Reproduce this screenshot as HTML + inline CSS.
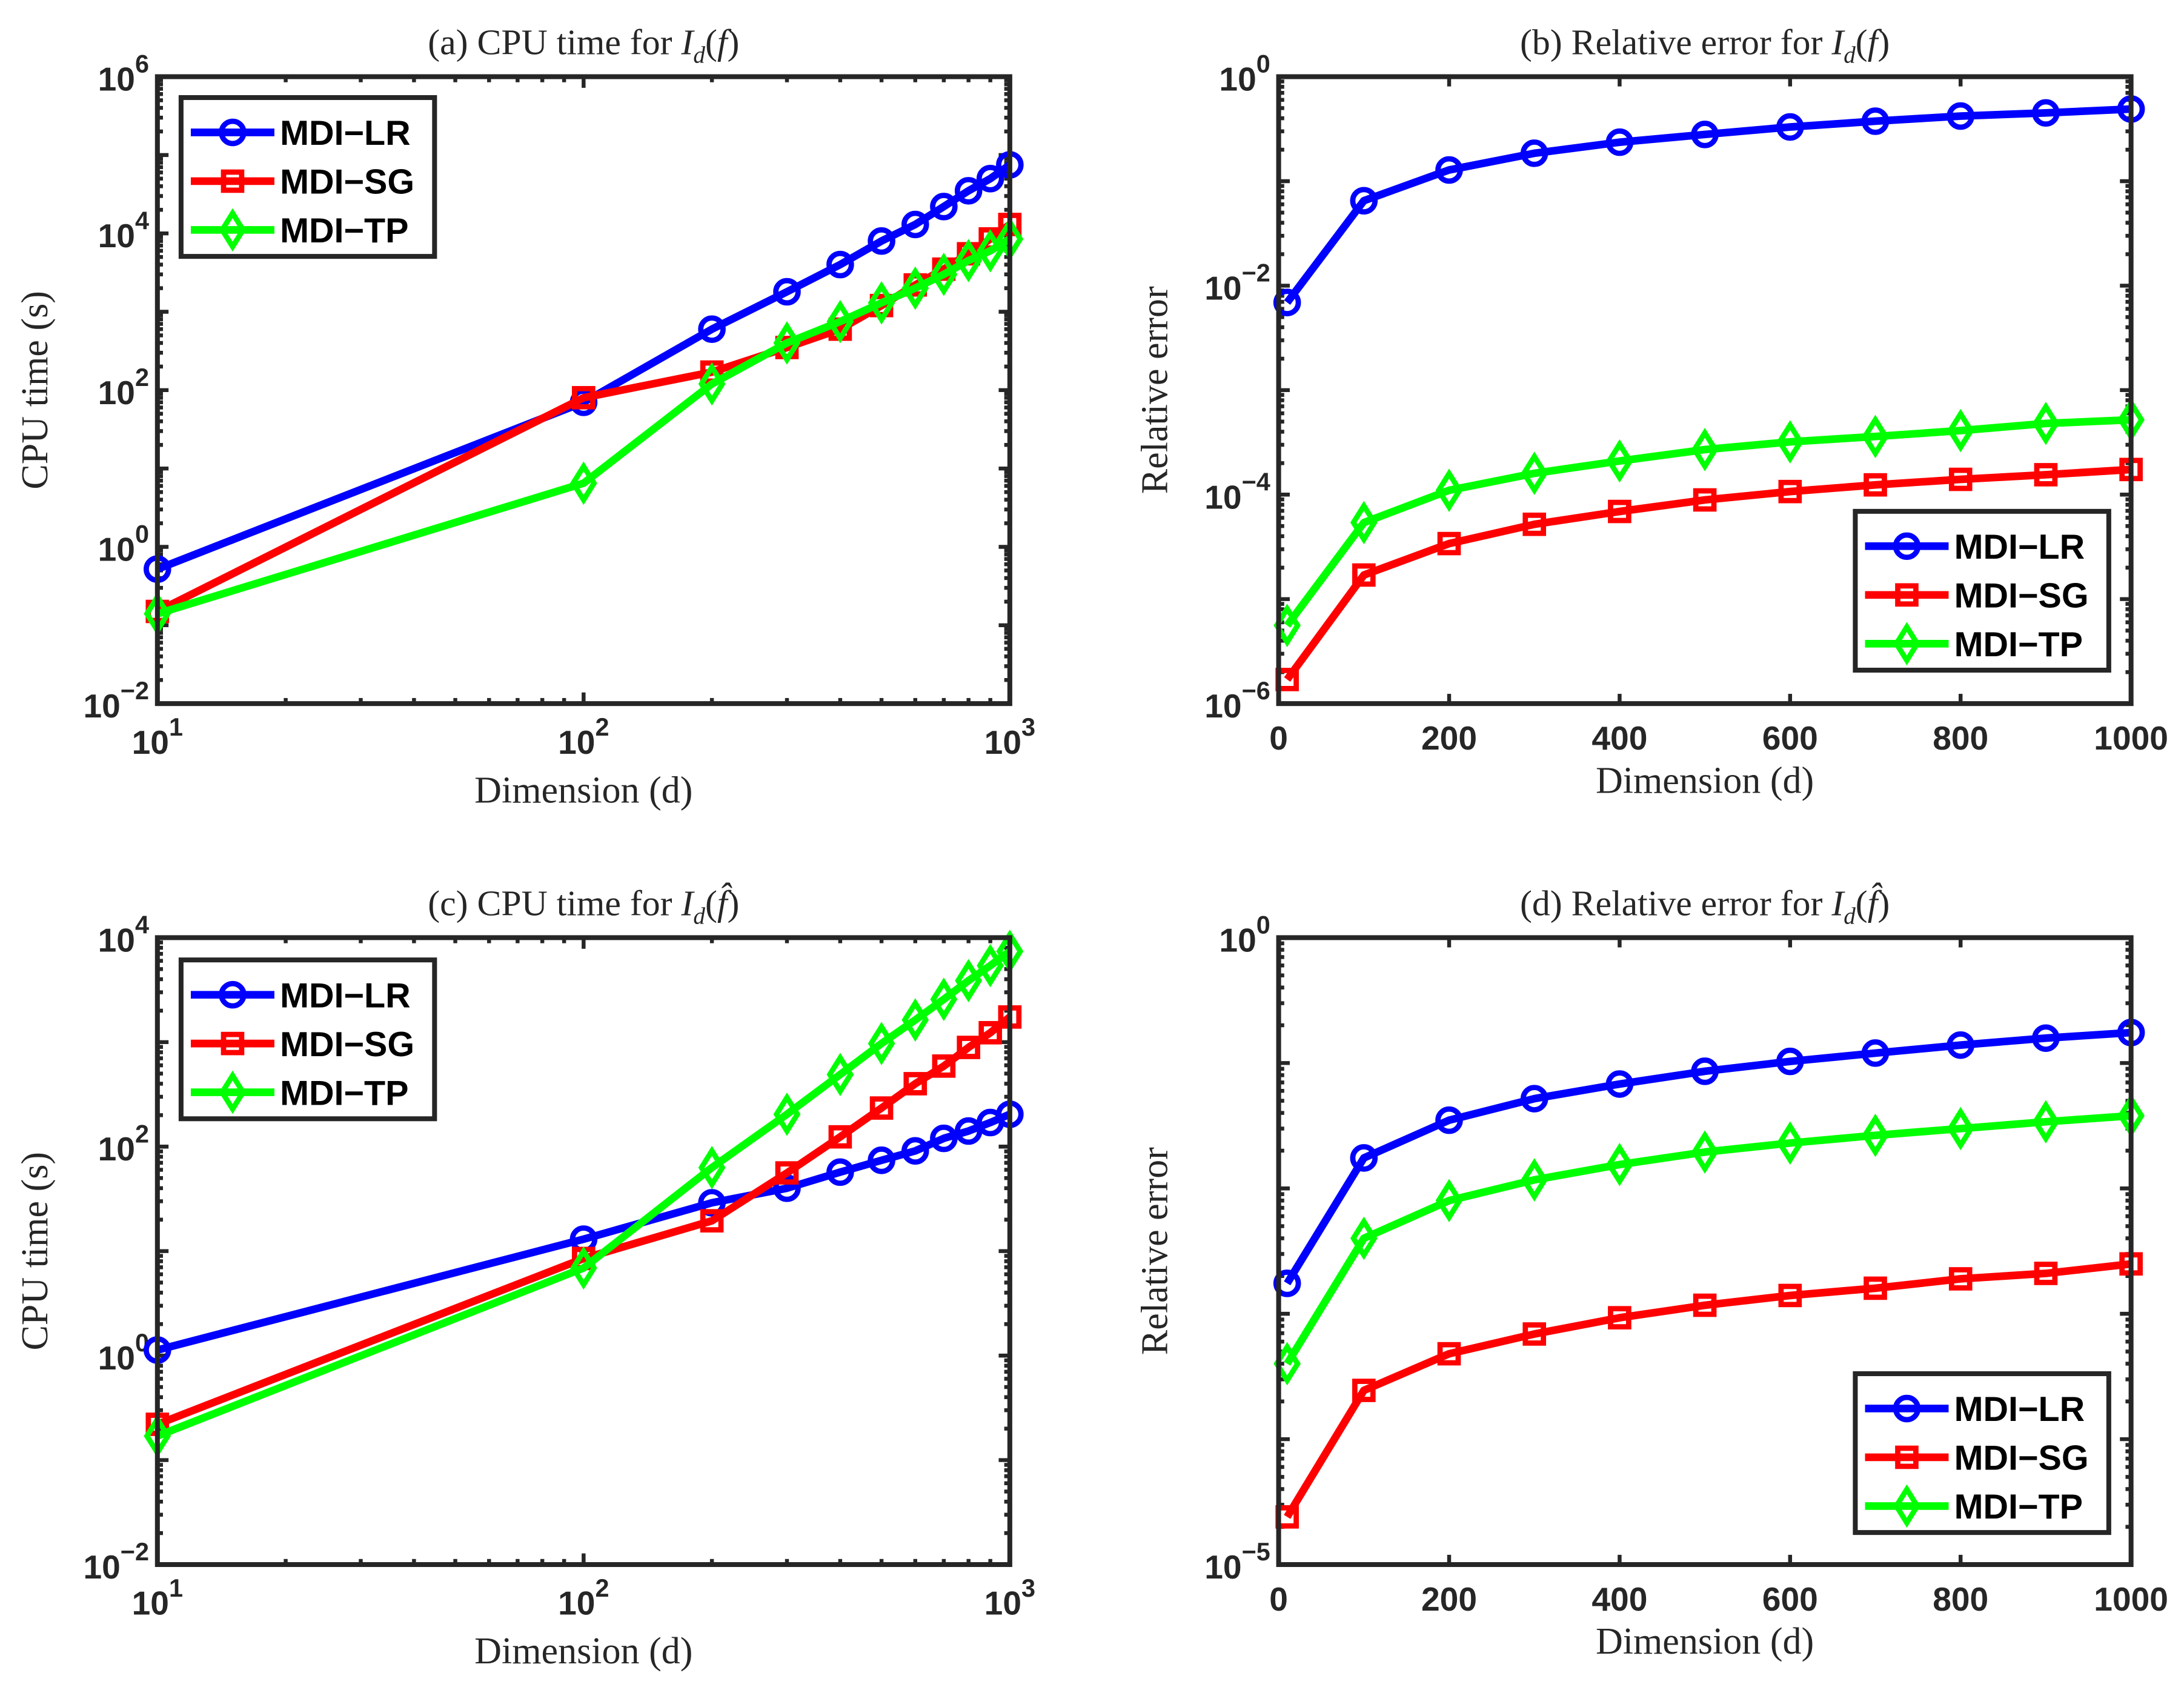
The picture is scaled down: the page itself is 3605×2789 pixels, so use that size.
<!DOCTYPE html>
<html><head><meta charset="utf-8"><style>
html,body{margin:0;padding:0;background:#fff;}
svg{display:block;}
.tk{font-family:"Liberation Sans",sans-serif;font-weight:bold;fill:#262626;}
.sf{font-family:"Liberation Serif",serif;fill:#262626;}
</style></head><body>
<svg id="fig" width="3605" height="2789" viewBox="0 0 1568 1213" xmlns="http://www.w3.org/2000/svg"></svg>
<script>
const dimsLog=[10,100,200,300,400,500,600,700,800,900,1000];
const seriesNames=["MDI\u2212LR","MDI\u2212SG","MDI\u2212TP"];
const aLR=[0.52,70,600,1800,4000,8000,13000,22000,35000,50000,75000];
const aSG=[0.15,80,170,350,600,1200,2200,3500,5500,8500,13000];
const aTP=[0.14,6.5,120,400,750,1300,2000,3000,4500,6000,8500];
const bLR=[0.0069,0.065,0.128,0.185,0.236,0.28,0.33,0.375,0.42,0.45,0.49];
const bSG=[1.7e-6,1.7e-5,3.4e-5,5.2e-5,6.9e-5,8.9e-5,1.07e-4,1.24e-4,1.4e-4,1.55e-4,1.74e-4];
const bTP=[5.6e-6,5.4e-5,1.1e-4,1.6e-4,2.1e-4,2.7e-4,3.2e-4,3.6e-4,4.1e-4,4.8e-4,5.2e-4];
const cLR=[1.13,13,29,40,57,74,91,120,141,170,204];
const cSG=[0.22,8.5,19.5,56,124,234,400,590,890,1230,1740];
const cTP=[0.17,6.9,63,204,490,970,1630,2570,3880,5400,7400];
const dLR=[1.75e-3,1.75e-2,3.5e-2,5.2e-2,6.8e-2,8.6e-2,0.103,0.12,0.139,0.158,0.175];
const dSG=[2.4e-5,2.45e-4,4.8e-4,6.9e-4,9.3e-4,1.17e-3,1.4e-3,1.6e-3,1.9e-3,2.1e-3,2.5e-3];
const dTP=[4e-4,4e-3,8e-3,1.17e-2,1.55e-2,1.95e-2,2.3e-2,2.65e-2,3e-2,3.4e-2,3.8e-2];
const linTicks=[0,200,400,600,800,1000];

const NS="http://www.w3.org/2000/svg";
const svg=document.getElementById('fig');
function mk(tag,attrs,parent){const e=document.createElementNS(NS,tag);for(const k in attrs)e.setAttribute(k,attrs[k]);(parent||svg).appendChild(e);return e;}
const colors=["#0000ff","#ff0000","#00ff00"];

function marker(g,type,x,y,col){
  let m;
  if(type===0)m=mk('circle',{cx:x,cy:y,r:8,fill:'none',stroke:col,'stroke-width':3.8},g);
  else if(type===1)m=mk('rect',{x:x-6.5,y:y-6.5,width:13,height:13,fill:'none',stroke:col,'stroke-width':3.8},g);
  else m=mk('polygon',{points:`${x},${y-12} ${x+7.5},${y} ${x},${y+12} ${x-7.5},${y}`,fill:'none',stroke:col,'stroke-width':3.8},g);
  return m;
}

function panel(o){
  const g=mk('g',{});
  
  
  const L=o.x0,R=o.x1,T=o.y0,B=o.y1;
  const ys=v=>B-(Math.log10(v)-o.ymin)/(o.ymax-o.ymin)*(B-T);
  const xs=o.xlog?(v=>L+(Math.log10(v)-1)/2*(R-L)):(v=>L+v/1000*(R-L));
  const tg=mk('g',{stroke:'#262626','stroke-width':2.8},g);
  
  
  for(let e=o.ymin;e<o.ymax;e++){
    for(let k=1;k<=9;k++){
      const v=k*Math.pow(10,e); const y=ys(v); const len=k===1?8:4;
      mk('line',{x1:L,y1:y,x2:L+len,y2:y},tg);mk('line',{x1:R,y1:y,x2:R-len,y2:y},tg);
    }
  }
  if(o.xlog){
    for(let e=1;e<3;e++)for(let k=1;k<=9;k++){const x=xs(k*Math.pow(10,e));const len=k===1?8:4;
      mk('line',{x1:x,y1:B,x2:x,y2:B-len},tg);mk('line',{x1:x,y1:T,x2:x,y2:T+len},tg);}
  } else {
    linTicks.forEach(v=>{const x=xs(v);mk('line',{x1:x,y1:B,x2:x,y2:B-7},tg);mk('line',{x1:x,y1:T,x2:x,y2:T+7},tg);});
  }
  o.ylabels.forEach(e=>{
    const y=ys(Math.pow(10,e));
    const t=mk('text',{x:L-6,y:y+10,'text-anchor':'end','font-size':24,class:'tk'},g);
    
    
    t.textContent='10';
    const s=mk('tspan',{dy:-13,'font-size':18},t);s.textContent=(e<0?'\u2212'+(-e):''+e);
  });
  if(o.xlog){
    [1,2,3].forEach(e=>{const x=xs(Math.pow(10,e));
      const t=mk('text',{x:x,y:B+36,'text-anchor':'middle','font-size':24,class:'tk'},g);
      
      
      t.textContent='10';const s=mk('tspan',{dy:-13,'font-size':18},t);s.textContent=''+e;});
  } else {
    linTicks.forEach(v=>{const t=mk('text',{x:xs(v),y:B+33,'text-anchor':'middle','font-size':24,class:'tk'},g);
      
      
      t.textContent=''+v;});
  }
  o.series.forEach((arr,i)=>{
    const sg=mk('g',{},g);
    
    
    const pts=arr.map((v,j)=>xs(dimsLog[j])+','+ys(v)).join(' ');
    const pl=mk('polyline',{points:pts,fill:'none',stroke:colors[i],'stroke-width':5.5,'stroke-linejoin':'round'},sg);
    
    
    arr.forEach((v,j)=>{const m=marker(sg,i,xs(dimsLog[j]),ys(v),colors[i]);
      
      });
  });
  const fr=mk('rect',{x:L,y:T,width:R-L,height:B-T,fill:'none',stroke:'#262626','stroke-width':3.5},g);
  
  
  const tt=mk('text',{x:(L+R)/2,y:T-16,'text-anchor':'middle','font-size':26,class:'sf'},g);
  
  
  tt.innerHTML=o.title;
  const xl=mk('text',{x:(L+R)/2,y:o.xly,'text-anchor':'middle','font-size':27,class:'sf'},g);
  
  
  xl.textContent='Dimension (d)';
  const yl=mk('text',{x:0,y:0,'text-anchor':'middle','font-size':27,class:'sf',transform:`translate(${o.ylx},${(T+B)/2}) rotate(-90)`},g);
  
  
  yl.textContent=o.ylabel;
  const lg=mk('g',{},g);
  
  
  const lx=o.leg[0],ly=o.leg[1];
  mk('rect',{x:lx,y:ly,width:182,height:114,fill:'#fff',stroke:'#262626','stroke-width':3.5},lg);
  seriesNames.forEach((n,i)=>{
    const ey=ly+25+i*35;
    const eg=mk('g',{},lg);
    
    
    mk('line',{x1:lx+7,y1:ey,x2:lx+67,y2:ey,stroke:colors[i],'stroke-width':5.5},eg);
    marker(eg,i,lx+37,ey,colors[i]);
    const t=mk('text',{x:lx+71,y:ey+9,'font-size':25,class:'tk'},eg);
    t.style.fill='#000';
    t.textContent=n;
  });
}
const Id='<tspan font-style="italic">I</tspan><tspan font-style="italic" font-size="17" dy="6">d</tspan><tspan dy="-6">(</tspan><tspan font-style="italic">f</tspan>)';
const Idh='<tspan font-style="italic">I</tspan><tspan font-style="italic" font-size="17" dy="6">d</tspan><tspan dy="-6">(</tspan><tspan font-style="italic">f\u0302</tspan>)';
panel({name:'panel-a-cpu-time',x0:113,x1:725,y0:55,y1:505,ymin:-2,ymax:6,ylabels:[-2,0,2,4,6],xlog:true,series:[aLR,aSG,aTP],title:'(a) CPU time for '+Id,ylabel:'CPU time (s)',ylx:34,xly:576,leg:[130,70]});
panel({name:'panel-b-relative-error',x0:918,x1:1530,y0:55,y1:505,ymin:-6,ymax:0,ylabels:[-6,-4,-2,0],xlog:false,series:[bLR,bSG,bTP],title:'(b) Relative error for '+Id,ylabel:'Relative error',ylx:838,xly:569,leg:[1332,367]});
panel({name:'panel-c-cpu-time',x0:113,x1:725,y0:673,y1:1123,ymin:-2,ymax:4,ylabels:[-2,0,2,4],xlog:true,series:[cLR,cSG,cTP],title:'(c) CPU time for '+Idh,ylabel:'CPU time (s)',ylx:34,xly:1194,leg:[130,689]});
panel({name:'panel-d-relative-error',x0:918,x1:1530,y0:673,y1:1123,ymin:-5,ymax:0,ylabels:[-5,0],xlog:false,series:[dLR,dSG,dTP],title:'(d) Relative error for '+Idh,ylabel:'Relative error',ylx:838,xly:1187,leg:[1332,986]});
</script>
</body></html>
